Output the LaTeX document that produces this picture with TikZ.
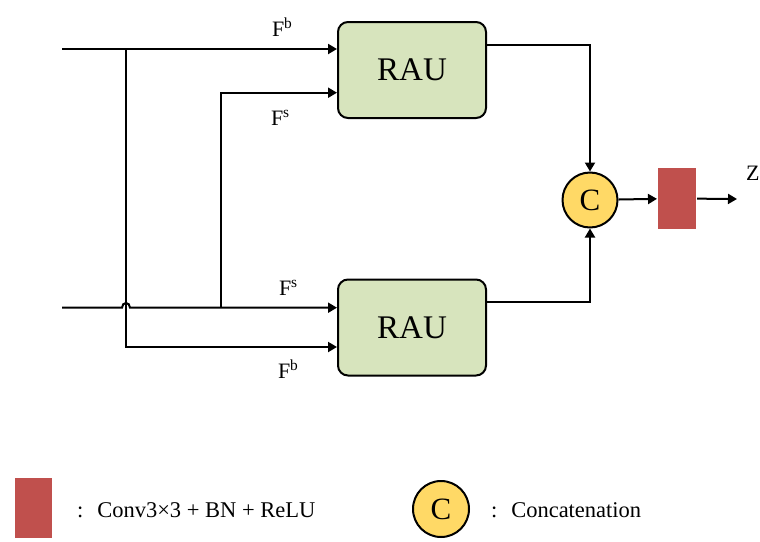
\documentclass[tikz,border=0pt]{standalone}
\usepackage{fontspec}
\setmainfont{Liberation Serif}
\usetikzlibrary{arrows.meta}
\definecolor{raugreen}{HTML}{D7E4BD}
\definecolor{convred}{HTML}{C0504D}
\definecolor{catyellow}{HTML}{FFD966}
\begin{document}
\begin{tikzpicture}[x=1pt,y=-1pt, line width=2pt,
  >={Triangle[length=9pt,width=10pt]},
  raubox/.style={draw, fill=raugreen, rounded corners=10pt, minimum width=148pt,
    minimum height=96pt, inner sep=0pt, font=\fontsize{33}{36}\selectfont},
  catnode/.style={circle, draw, fill=catyellow, minimum size=55pt, inner sep=0pt,
    font=\fontsize{31}{34}\selectfont},
  convbox/.style={fill=convred, minimum width=38pt, minimum height=61pt, inner sep=0pt},
  lbl/.style={anchor=base west, inner sep=0pt, font=\fontsize{22}{26}\selectfont},
  legtext/.style={anchor=west, inner sep=0pt, font=\fontsize{22.5}{26}\selectfont}]
\useasboundingbox (0,0) rectangle (760,541);

% blocks
\node[raubox] (rau1) at (412,70) {RAU};
\node[raubox] (rau2) at (412,327.5) {RAU};
\node[catnode] (cc) at (590,200) {C};
\node[convbox] (conv) at (677,198.5) {};

% coordinates
\coordinate (in1) at (62,49);
\coordinate (b1) at (126,49);
\coordinate (b1low) at (126,347);
\coordinate (in2) at (62,307.7);
\coordinate (hopL) at (122,307.7);
\coordinate (hopR) at (130,307.7);
\coordinate (s1) at (221,307.7);
\coordinate (s1top) at (221,92.7);
\coordinate (o1) at (486,45);
\coordinate (o2) at (486,302);
\coordinate (zend) at (737,199);

% inputs
\draw[->] (in1) -- (rau1.west |- in1);
\draw[->] (b1) -- (b1low) -- (rau2.west |- b1low);
\draw[->] (in2) -- (hopL) .. controls (122,301.5) and (130,301.5) .. (hopR) -- (rau2.west |- in2);
\draw[->] (s1) -- (s1top) -- (rau1.west |- s1top);

% outputs
\draw[->] (o1) -| (cc.north);
\draw[->] (o2) -| (cc.south);
\draw[->] (cc) -- (conv);
\draw[->] (conv) -- (zend);

% labels
\node[lbl] (lfb1) at (271,36) {F\textsuperscript{b}};
\node[lbl] (lfs1) at (270,125) {F\textsuperscript{s}};
\node[lbl] (lfs2) at (278,295) {F\textsuperscript{s}};
\node[lbl] (lfb2) at (277,378) {F\textsuperscript{b}};
\node[lbl] (lz) at (745,180) {Z};

% legend
\node[convbox, minimum width=37pt, minimum height=60pt] (lconv) at (33.5,508) {};
\node[legtext] (tconv) at (76,510) {:\hspace{14pt}Conv3×3 + BN + ReLU};
\node[catnode, minimum size=56pt] (lcat) at (441,509) {C};
\node[legtext] (tcat) at (490,510) {:\hspace{14pt}Concatenation};
\end{tikzpicture}
\end{document}
